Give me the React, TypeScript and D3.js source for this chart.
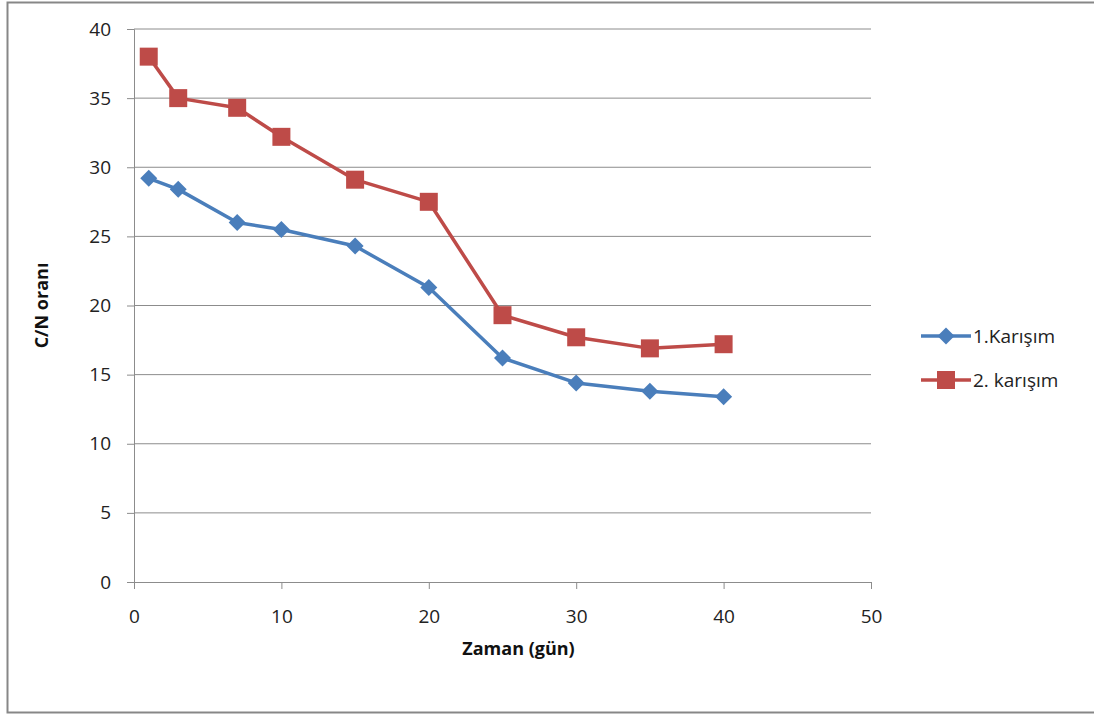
import { useEffect, useRef } from 'react';
import * as d3 from 'd3';

const WIDTH = 1094;
const HEIGHT = 715;
const PLOT = { left: 134, right: 871, top: 29, bottom: 582 };

const days = [1, 3, 7, 10, 15, 20, 25, 30, 35, 40];
const mix1 = [29.2, 28.4, 26.0, 25.5, 24.3, 21.3, 16.2, 14.4, 13.8, 13.4];
const mix2 = [38.0, 35.0, 34.3, 32.2, 29.1, 27.5, 19.3, 17.7, 16.9, 17.2];
const xTicks = [0, 10, 20, 30, 40, 50];
const yTicks = [0, 5, 10, 15, 20, 25, 30, 35, 40];
const seriesNames = ['1.Karışım', '2. karışım'];

const BLUE = '#4a7ebb';
const RED = '#be4b48';
const FONT = "'Open Sans', 'Noto Sans', sans-serif";

export default function App() {
  const svgRef = useRef<SVGSVGElement>(null);

  useEffect(() => {
    const svg = d3.select(svgRef.current);
    svg.selectAll('*').remove();

    const x = d3.scaleLinear().domain([0, 50]).range([PLOT.left, PLOT.right]);
    const y = d3.scaleLinear().domain([0, 40]).range([PLOT.bottom, PLOT.top]);

    // outer frame
    svg.append('rect')
      .attr('x', 7.5).attr('y', 2.5)
      .attr('width', WIDTH + 20).attr('height', 710)
      .attr('fill', '#fff').attr('stroke', '#878787').attr('stroke-width', 2);

    // grid
    svg.append('g')
      .selectAll('line')
      .data(yTicks.filter((t) => t > 0))
      .join('line')
      .attr('x1', PLOT.left).attr('x2', PLOT.right)
      .attr('y1', (d) => y(d)).attr('y2', (d) => y(d))
      .attr('stroke', '#8c8c8c').attr('stroke-width', 1);

    // y axis
    const yAxis = svg.append('g')
      .attr('transform', `translate(${PLOT.left},0)`)
      .call(d3.axisLeft(y).tickValues(yTicks).tickSize(7).tickPadding(16));
    // x axis
    const xAxis = svg.append('g')
      .attr('transform', `translate(0,${PLOT.bottom})`)
      .call(d3.axisBottom(x).tickValues(xTicks).tickSize(7).tickPadding(21));

    [xAxis, yAxis].forEach((a) => {
      a.selectAll('.domain').attr('stroke', '#8c8c8c');
      a.selectAll('.tick line').attr('stroke', '#8c8c8c');
      a.selectAll('.tick text')
        .attr('fill', '#222')
        .style('font-family', FONT)
        .style('font-size', '19px');
    });

    const line = d3.line<number>()
      .x((_, i) => x(days[i]))
      .y((d) => y(d));

    const series = [
      { values: mix1, color: BLUE, shape: 'diamond' },
      { values: mix2, color: RED, shape: 'square' },
    ];

    const markerPath = (shape: string, s: number) =>
      shape === 'diamond'
        ? `M0,${-s}L${s},0L0,${s}L${-s},0Z`
        : `M${-s},${-s}H${s}V${s}H${-s}Z`;

    series.forEach((s) => {
      svg.append('path')
        .datum(s.values)
        .attr('d', line)
        .attr('fill', 'none')
        .attr('stroke', s.color)
        .attr('stroke-width', 3.5)
        .attr('stroke-linejoin', 'round');
      svg.append('g')
        .selectAll('path')
        .data(s.values)
        .join('path')
        .attr('transform', (d, i) => `translate(${x(days[i])},${y(d)})`)
        .attr('d', markerPath(s.shape, s.shape === 'diamond' ? 8.5 : 9))
        .attr('fill', s.color);
    });

    // axis titles
    svg.append('text')
      .attr('x', (PLOT.left + PLOT.right) / 2 + 16).attr('y', 655)
      .attr('text-anchor', 'middle')
      .style('font-family', FONT).style('font-size', '18px').style('font-weight', 700)
      .attr('fill', '#111')
      .text('Zaman (gün)');
    svg.append('text')
      .attr('transform', `translate(48,${(PLOT.top + PLOT.bottom) / 2}) rotate(-90)`)
      .attr('text-anchor', 'middle')
      .style('font-family', FONT).style('font-size', '18px').style('font-weight', 700)
      .attr('fill', '#111')
      .text('C/N oranı');

    // legend
    const legend = svg.append('g').attr('transform', 'translate(921,336)');
    series.forEach((s, i) => {
      const g = legend.append('g').attr('transform', `translate(0,${i * 44})`);
      g.append('line').attr('x1', 0).attr('x2', 50).attr('stroke', s.color).attr('stroke-width', 3.5);
      g.append('path')
        .attr('transform', 'translate(25,0)')
        .attr('d', markerPath(s.shape, s.shape === 'diamond' ? 8.5 : 9))
        .attr('fill', s.color);
      g.append('text')
        .attr('x', 52).attr('y', 7)
        .style('font-family', FONT).style('font-size', '19px')
        .attr('fill', '#222')
        .text(seriesNames[i]);
    });
  }, []);

  return (
    <svg
      ref={svgRef}
      width={WIDTH}
      height={HEIGHT}
      style={{ position: 'absolute', left: 0, top: 0, background: '#fff' }}
    />
  );
}
